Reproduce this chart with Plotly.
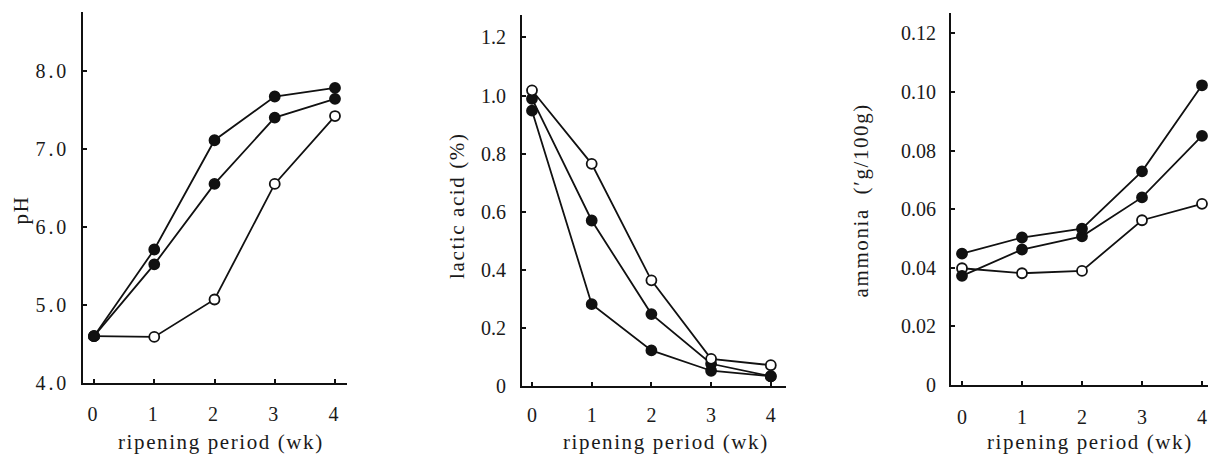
import plotly.graph_objects as go

W, H = 1208, 455

weeks = [0, 1, 2, 3, 4]

# pH panel
ph_filled_a = [4.60, 5.71, 7.11, 7.67, 7.78]
ph_filled_b = [4.60, 5.52, 6.55, 7.40, 7.64]
ph_open = [4.60, 4.59, 5.07, 6.55, 7.42]

# lactic acid panel (%)
lac_open = [1.018, 0.765, 0.364, 0.094, 0.072]
lac_filled_a = [0.989, 0.570, 0.248, 0.077, 0.034]
lac_filled_b = [0.948, 0.282, 0.123, 0.053, 0.034]

# ammonia panel (g/100 g)
amm_filled_a = [0.0448, 0.0503, 0.0533, 0.0729, 0.1023]
amm_filled_b = [0.0372, 0.0462, 0.0507, 0.0640, 0.0850]
amm_open = [0.0398, 0.0381, 0.0389, 0.0562, 0.0618]

x_ticks = [0, 1, 2, 3, 4]
ph_ticks = [4.0, 5.0, 6.0, 7.0, 8.0]
ph_ticktext = ["4.0", "5.0", "6.0", "7.0", "8.0"]
lac_ticks = [0, 0.2, 0.4, 0.6, 0.8, 1.0, 1.2]
lac_ticktext = ["0", "0.2", "0.4", "0.6", "0.8", "1.0", "1.2"]
amm_ticks = [0, 0.02, 0.04, 0.06, 0.08, 0.10, 0.12]
amm_ticktext = ["0", "0.02", "0.04", "0.06", "0.08", "0.10", "0.12"]

FONT = "Liberation Serif, Times New Roman, serif"
INK = "#111111"


def px(x):
    return x / W


def py(y):
    return 1 - y / H


fig = go.Figure()


def add_series(xa, ya, vals, filled):
    fig.add_trace(go.Scatter(
        x=weeks, y=vals, xaxis=xa, yaxis=ya, mode="lines+markers",
        line=dict(color=INK, width=1.8),
        marker=dict(size=10, symbol="circle",
                    color=INK if filled else "white",
                    line=dict(color=INK, width=1.8)),
        cliponaxis=False, showlegend=False, hoverinfo="skip"))


add_series("x", "y", ph_open, False)
add_series("x", "y", ph_filled_b, True)
add_series("x", "y", ph_filled_a, True)

add_series("x2", "y2", lac_filled_b, True)
add_series("x2", "y2", lac_filled_a, True)
add_series("x2", "y2", lac_open, False)

add_series("x3", "y3", amm_open, False)
add_series("x3", "y3", amm_filled_b, True)
add_series("x3", "y3", amm_filled_a, True)

axis_common = dict(showgrid=False, zeroline=False, showline=True, linecolor=INK,
                   linewidth=2, ticks="inside", ticklen=4, tickwidth=1.5, tickcolor=INK,
                   tickfont=dict(family=FONT, size=20, color="#1a1a1a"), mirror=False,
                   fixedrange=True)

fig.update_layout(
    width=W, height=H, margin=dict(l=0, r=0, t=0, b=0),
    paper_bgcolor="white", plot_bgcolor="white",
    xaxis=dict(domain=[px(83), px(347)], range=[-(94 - 83) / 60.25, (347 - 94) / 60.25],
               tickvals=x_ticks, anchor="y", ticklabelstandoff=12, **axis_common),
    yaxis=dict(domain=[py(392.5), py(12)], range=[4.0, 4.0 + (392.5 - 12) / 80.0],
               tickvals=ph_ticks, ticktext=ph_ticktext, anchor="x", ticklabelstandoff=8,
               **axis_common),
    xaxis2=dict(domain=[px(522), px(786)], range=[-(532 - 522) / 59.7, (786 - 532) / 59.7],
                tickvals=x_ticks, anchor="y2", ticklabelstandoff=10, **axis_common),
    yaxis2=dict(domain=[py(395.7), py(15)], range=[0, (395.7 - 15) / 297.8],
                tickvals=lac_ticks, ticktext=lac_ticktext, anchor="x2", ticklabelstandoff=10,
                **axis_common),
    xaxis3=dict(domain=[px(951), 1.0], range=[-(962 - 951) / 60.0, (1208 - 962) / 60.0],
                tickvals=x_ticks, anchor="y3", ticklabelstandoff=13, **axis_common),
    yaxis3=dict(domain=[py(394.3), py(13.3)], range=[0, (394.3 - 13.3) / 3000.0],
                tickvals=amm_ticks, ticktext=amm_ticktext, anchor="x3", ticklabelstandoff=9,
                **axis_common),
)

title_font = dict(family=FONT, size=21, color="#1a1a1a")
annos = [
    dict(text="pH", x=px(21), y=py(215), textangle=-90, yanchor="middle", yshift=0),
    dict(text="lactic acid (%)", x=px(457), y=py(211), textangle=-90, yanchor="middle", yshift=0),
    dict(text="ammonia  (′g/100g)", x=px(861), y=py(205), textangle=-90, yanchor="middle", yshift=0),
    dict(text="ripening period (wk)", x=px(221), y=0, textangle=0, yanchor="bottom", yshift=-11),
    dict(text="ripening period (wk)", x=px(666), y=0, textangle=0, yanchor="bottom", yshift=-11),
    dict(text="ripening period (wk)", x=px(1090), y=0, textangle=0, yanchor="bottom", yshift=-11),
]
for a in annos:
    fig.add_annotation(xref="paper", yref="paper", showarrow=False, borderpad=0,
                       xanchor="center", font=title_font, **a)

post = """
var gd = document.querySelector('.plotly-graph-div');
if (gd) {
  gd.querySelectorAll('.xtick text, .ytick text').forEach(function(t){ t.style.letterSpacing = '2.8px'; });
  gd.querySelectorAll('.annotation-text').forEach(function(t){ t.style.letterSpacing = '1.6px'; });
}
"""

fig.write_html("out.html", post_script=post)
